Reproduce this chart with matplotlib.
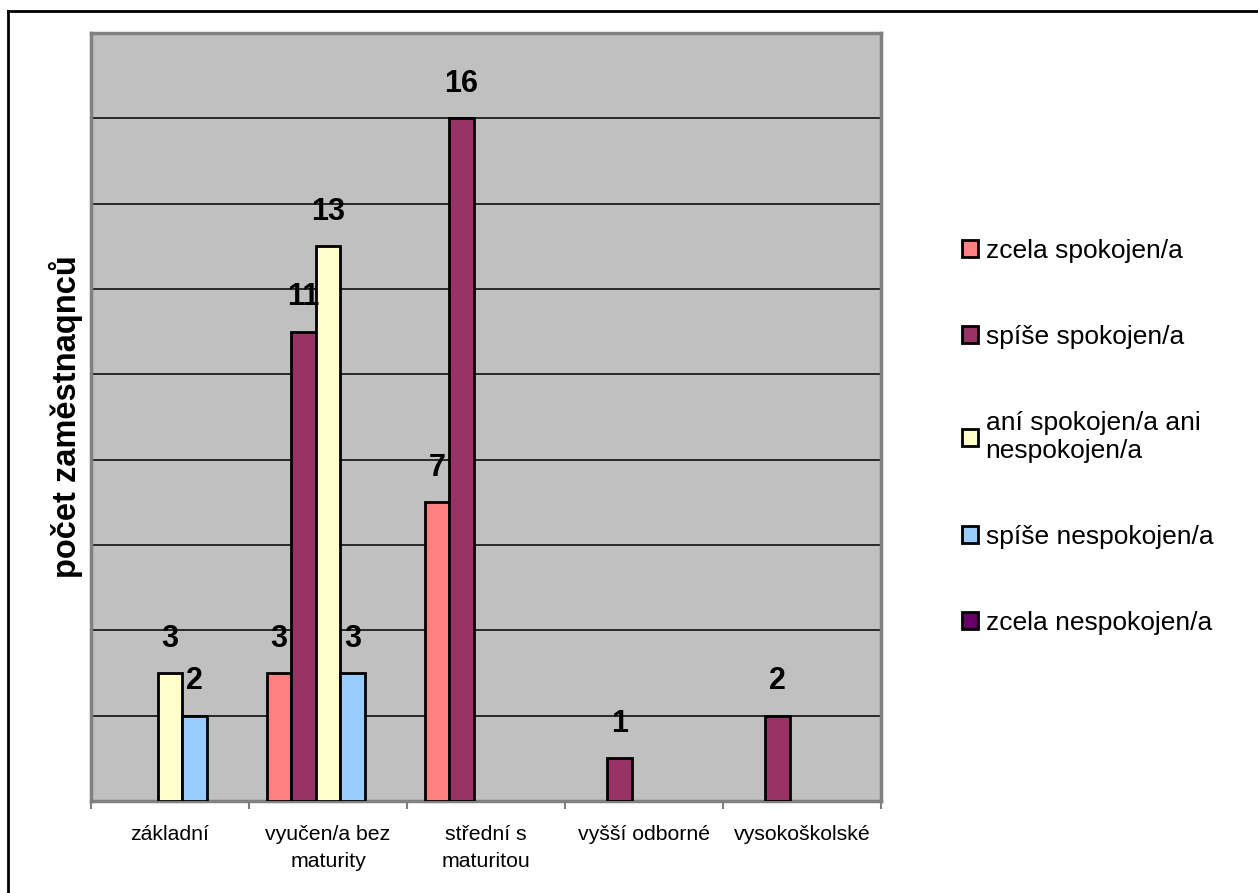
import numpy as np
import matplotlib.pyplot as plt
from matplotlib.lines import Line2D
from matplotlib.patches import Patch

plt.rcParams['font.family'] = ['Liberation Sans', 'DejaVu Sans']

# vzdelani a spokojenost zamestnancu
kategorie = ['základní', 'vyučen/a bez\nmaturity', 'střední s\nmaturitou',
             'vyšší odborné', 'vysokoškolské']
serie = ['zcela spokojen/a', 'spíše spokojen/a',
         'aní spokojen/a ani\nnespokojen/a', 'spíše nespokojen/a',
         'zcela nespokojen/a']
zcela_spokojen = [0, 3, 7, 0, 0]
spise_spokojen = [0, 11, 16, 1, 2]
ani_ani = [3, 13, 0, 0, 0]
spise_nespokojen = [2, 3, 0, 0, 0]
zcela_nespokojen = [0, 0, 0, 0, 0]
barvy = ['#FF8080', '#993366', '#FFFFCC', '#99CCFF', '#660066']

hodnoty = [zcela_spokojen, spise_spokojen, ani_ani, spise_nespokojen, zcela_nespokojen]

fig = plt.figure(figsize=(12.58, 8.93), dpi=100)
ax = fig.add_axes([91 / 1258, 92 / 893, 790 / 1258, 768 / 893])
ax.set_facecolor('#C0C0C0')

x = np.arange(len(kategorie))
w = 0.155
for i, (vals, barva) in enumerate(zip(hodnoty, barvy)):
    pos = x + (i - 2) * w
    v = np.array(vals, dtype=float)
    v[v == 0] = np.nan          # nulove hodnoty se nekresli
    ax.bar(pos, v, width=w, color=barva, edgecolor='black', linewidth=2, zorder=3)
    for p, h in zip(pos, vals):
        if h > 0:
            ax.annotate(str(h), (p, h), xytext=(0, 14), textcoords='offset points',
                        ha='center', va='bottom', fontsize=22, fontweight='bold', zorder=4)

ax.set_xlim(-0.5, len(kategorie) - 0.5)
ax.set_ylim(0, 18)
ax.set_yticks(np.arange(0, 19, 2))
ax.yaxis.grid(True, color='black', linewidth=1.1, zorder=1)
ax.tick_params(axis='y', length=0, labelleft=False)

ax.set_xticks(x)
ax.set_xticklabels(kategorie, fontsize=15.3, linespacing=1.55)
ax.set_xticks(np.arange(-0.5, len(kategorie)), minor=True)
ax.tick_params(axis='x', which='major', length=0, pad=17)
ax.tick_params(axis='x', which='minor', length=6, width=1.5, color='#808080')

for s in ax.spines.values():
    s.set_color('#808080')
    s.set_linewidth(2.5)

ax.set_ylabel('počet zaměstnaqnců', fontsize=23.5, fontweight='bold', labelpad=6)

handles = [Patch(facecolor=b, edgecolor='black', linewidth=2) for b in barvy]
fig.legend(handles, serie, loc='center left', bbox_to_anchor=(938 / 1258, 456 / 893),
           frameon=False, fontsize=19, handlelength=0.6, handleheight=0.6,
           handletextpad=0.3, labelspacing=2.35)

# ramecek grafu (jen horni a leva hrana)
fig.add_artist(Line2D([8 / 1258, 8 / 1258], [0, 1 - 11 / 893], color='black', linewidth=2,
                      transform=fig.transFigure))
fig.add_artist(Line2D([8 / 1258, 1], [1 - 11 / 893, 1 - 11 / 893], color='black', linewidth=2,
                      transform=fig.transFigure))

fig.savefig('out.png', dpi=100)
